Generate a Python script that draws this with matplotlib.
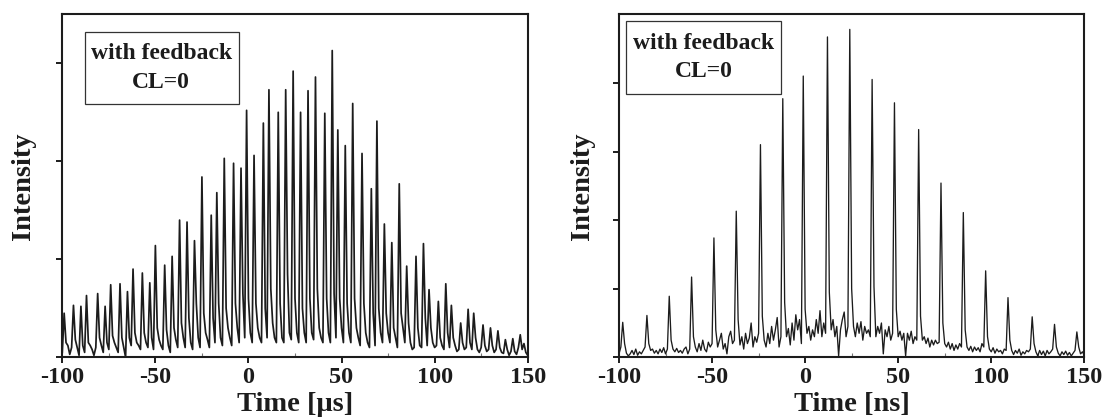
import numpy as np
import matplotlib.pyplot as plt
from matplotlib.patches import Rectangle
from matplotlib.ticker import MultipleLocator

plt.rcParams['font.family'] = ['Liberation Serif', 'DejaVu Serif']
plt.rcParams['font.weight'] = 'bold'
plt.rcParams['axes.labelweight'] = 'bold'
plt.rcParams['axes.unicode_minus'] = False

# trace sampled every 1 unit from -100 to 150
time_us = np.arange(-100, 151)
time_ns = np.arange(-100, 151)

intensity_us = [
    0.05, 0.45, 0.15, 0.12, 0.03, 0.10, 0.53, 0.18, 0.10, 0.02,   # -100
    0.52, 0.12, 0.05, 0.63, 0.15, 0.12, 0.08, 0.02, 0.10, 0.65,   # -90
    0.20, 0.12, 0.05, 0.52, 0.15, 0.08, 0.74, 0.22, 0.15, 0.10,   # -80
    0.05, 0.75, 0.20, 0.10, 0.00, 0.67, 0.20, 0.12, 0.90, 0.25,   # -70
    0.15, 0.12, 0.08, 0.86, 0.25, 0.15, 0.10, 0.76, 0.20, 0.08,   # -60
    1.14, 0.30, 0.18, 0.12, 0.08, 0.94, 0.28, 0.12, 0.05, 1.03,   # -50
    0.30, 0.18, 0.10, 1.40, 0.35, 0.20, 0.10, 1.38, 0.40, 0.15,   # -40
    0.08, 1.19, 0.55, 0.20, 0.10, 1.84, 0.45, 0.25, 0.18, 0.10,   # -30
    1.45, 0.40, 0.15, 1.68, 0.55, 0.20, 0.12, 2.03, 0.50, 0.30,   # -20
    0.20, 0.12, 1.98, 0.55, 0.30, 0.15, 1.93, 0.65, 0.20, 2.52,   # -10
    0.60, 0.25, 0.15, 2.06, 0.55, 0.30, 0.20, 0.15, 2.39, 0.50,   # 0
    0.20, 2.73, 0.70, 0.35, 0.20, 0.15, 2.50, 0.55, 0.20, 0.15,   # 10
    2.73, 0.85, 0.25, 0.18, 2.92, 0.60, 0.25, 0.15, 2.50, 0.50,   # 20
    0.25, 0.15, 2.72, 0.60, 0.25, 0.18, 2.86, 0.70, 0.30, 0.20,   # 30
    0.15, 2.49, 0.60, 0.25, 0.15, 3.13, 0.65, 0.20, 2.32, 0.60,   # 40
    0.30, 0.15, 2.16, 0.55, 0.25, 0.15, 2.59, 0.60, 0.30, 0.20,   # 50
    0.12, 2.08, 0.55, 0.25, 0.15, 0.10, 1.72, 0.45, 0.12, 2.41,   # 60
    0.50, 0.25, 0.15, 1.36, 0.45, 0.25, 0.15, 1.17, 0.30, 0.20,   # 70
    0.10, 1.77, 0.45, 0.30, 0.15, 0.93, 0.35, 0.15, 0.08, 0.10,   # 80
    1.03, 0.30, 0.12, 0.10, 1.16, 0.40, 0.12, 0.69, 0.30, 0.15,   # 90
    0.10, 0.12, 0.57, 0.20, 0.12, 0.08, 0.75, 0.25, 0.10, 0.53,   # 100
    0.20, 0.12, 0.06, 0.08, 0.35, 0.15, 0.08, 0.10, 0.49, 0.15,   # 110
    0.08, 0.45, 0.20, 0.08, 0.05, 0.10, 0.33, 0.12, 0.06, 0.08,   # 120
    0.30, 0.12, 0.05, 0.08, 0.27, 0.10, 0.05, 0.04, 0.18, 0.08,   # 130
    0.02, 0.06, 0.19, 0.06, 0.03, 0.10, 0.23, 0.08, 0.14, 0.05,   # 140
    0.02,                                                         # 150
]

intensity_ns = [
    0.05, 0.15, 0.51, 0.20, 0.06, 0.02, 0.05, 0.10, 0.04, 0.12,   # -100
    0.03, 0.08, 0.05, 0.10, 0.15, 0.61, 0.20, 0.10, 0.12, 0.06,   # -90
    0.10, 0.05, 0.12, 0.07, 0.14, 0.05, 0.12, 0.89, 0.25, 0.12,   # -80
    0.08, 0.13, 0.07, 0.10, 0.06, 0.12, 0.15, 0.05, 0.12, 1.17,   # -70
    0.30, 0.15, 0.08, 0.20, 0.10, 0.25, 0.12, 0.08, 0.22, 0.15,   # -60
    0.20, 1.74, 0.40, 0.15, 0.25, 0.35, 0.12, 0.20, 0.05, 0.30,   # -50
    0.38, 0.20, 0.25, 2.13, 0.55, 0.18, 0.30, 0.12, 0.35, 0.20,   # -40
    0.28, 0.50, 0.15, 0.30, 0.22, 0.35, 3.10, 0.60, 0.25, 0.15,   # -30
    0.35, 0.20, 0.45, 0.25, 0.40, 0.58, 0.15, 0.30, 3.77, 0.80,   # -20
    0.30, 0.42, 0.18, 0.50, 0.25, 0.62, 0.40, 0.55, 0.20, 4.10,   # -10
    0.70, 0.35, 0.45, 0.25, 0.40, 0.30, 0.55, 0.35, 0.68, 0.30,   # 0
    0.50, 0.35, 4.67, 0.95, 0.40, 0.55, 0.30, 0.45, 0.02, 0.40,   # 10
    0.55, 0.66, 0.30, 0.45, 4.78, 1.00, 0.45, 0.30, 0.50, 0.35,   # 20
    0.52, 0.25, 0.45, 0.35, 0.40, 0.30, 4.05, 1.03, 0.30, 0.45,   # 30
    0.35, 0.50, 0.05, 0.40, 0.30, 0.45, 0.25, 0.35, 3.71, 0.70,   # 40
    0.30, 0.38, 0.25, 0.35, 0.02, 0.35, 0.25, 0.38, 0.20, 0.30,   # 50
    0.25, 3.32, 0.60, 0.25, 0.30, 0.20, 0.28, 0.15, 0.25, 0.18,   # 60
    0.25, 0.20, 0.22, 2.54, 0.50, 0.20, 0.15, 0.22, 0.12, 0.20,   # 70
    0.10, 0.18, 0.12, 0.20, 0.15, 2.11, 0.40, 0.15, 0.10, 0.16,   # 80
    0.08, 0.15, 0.10, 0.14, 0.08, 0.20, 0.15, 1.26, 0.30, 0.12,   # 90
    0.08, 0.14, 0.06, 0.12, 0.08, 0.10, 0.05, 0.12, 0.10, 0.87,   # 100
    0.25, 0.10, 0.04, 0.10, 0.06, 0.12, 0.03, 0.08, 0.05, 0.10,   # 110
    0.08, 0.12, 0.59, 0.20, 0.08, 0.02, 0.10, 0.04, 0.09, 0.02,   # 120
    0.10, 0.05, 0.08, 0.12, 0.48, 0.15, 0.06, 0.02, 0.08, 0.04,   # 130
    0.09, 0.03, 0.07, 0.02, 0.06, 0.10, 0.37, 0.15, 0.05, 0.08,   # 140
    0.03,                                                         # 150
]

box_lines = ['with feedback', 'CL=0']
x_ticks = [-100, -50, 0, 50, 100, 150]

ink = '#1c1c1c'
W, H = 1104, 420

fig = plt.figure(figsize=(W / 100, H / 100), dpi=100)
ax1 = fig.add_axes([62.3 / W, (H - 357.3) / H, 465.4 / W, 343 / H])
ax2 = fig.add_axes([619 / W, (H - 357.3) / H, 465.3 / W, 343 / H])


def style_panel(ax, ymax, yticks, unit, ylab_x, box, text_x, text_y):
    ax.set_xlim(-100, 150)
    ax.set_ylim(0, ymax)
    ax.set_xticks(x_ticks)
    ax.xaxis.set_minor_locator(MultipleLocator(25))
    ax.set_yticks(yticks)
    ax.set_yticklabels([])
    ax.tick_params(axis='both', which='major', direction='out', length=4.5,
                   width=1.4, color=ink, labelsize=17.5, pad=2.5, labelcolor=ink)
    ax.tick_params(axis='x', which='minor', direction='in', length=3,
                   width=0.8, color='#777777')
    for s in ax.spines.values():
        s.set_linewidth(1.5)
        s.set_color(ink)
    ax.set_xlabel('Time [' + unit + ']', fontsize=20.5, fontweight='bold', color=ink)
    ax.xaxis.set_label_coords(0.5, -0.102)
    ax.set_ylabel('Intensity', fontsize=20.5, fontweight='bold', color=ink)
    ax.yaxis.set_label_coords(ylab_x, 0.5)
    x0, y0, x1, y1 = box
    ax.add_patch(Rectangle((x0, y0), x1 - x0, y1 - y0, transform=ax.transAxes,
                           fill=False, lw=0.9, ec='#333333', zorder=5))
    for line, ty in zip(box_lines, text_y):
        ax.text(text_x, ty, line, transform=ax.transAxes, ha='center',
                va='baseline', fontsize=17, fontweight='bold', color=ink)


ax1.plot(time_us, intensity_us, color=ink, lw=1.25)
style_panel(ax1, 3.5, [0, 1, 2, 3], 'μs', -0.0565,
            (0.0488, 0.7376, 0.379, 0.9475), 0.2127, (0.8697, 0.785))

ax2.plot(time_ns, intensity_ns, color=ink, lw=0.95)
style_panel(ax2, 5.0, [0, 1, 2, 3, 4], 'ns', -0.0507,
            (0.015, 0.7668, 0.3486, 0.9813), 0.1818, (0.898, 0.8163))

fig.savefig('out.png', dpi=100)
